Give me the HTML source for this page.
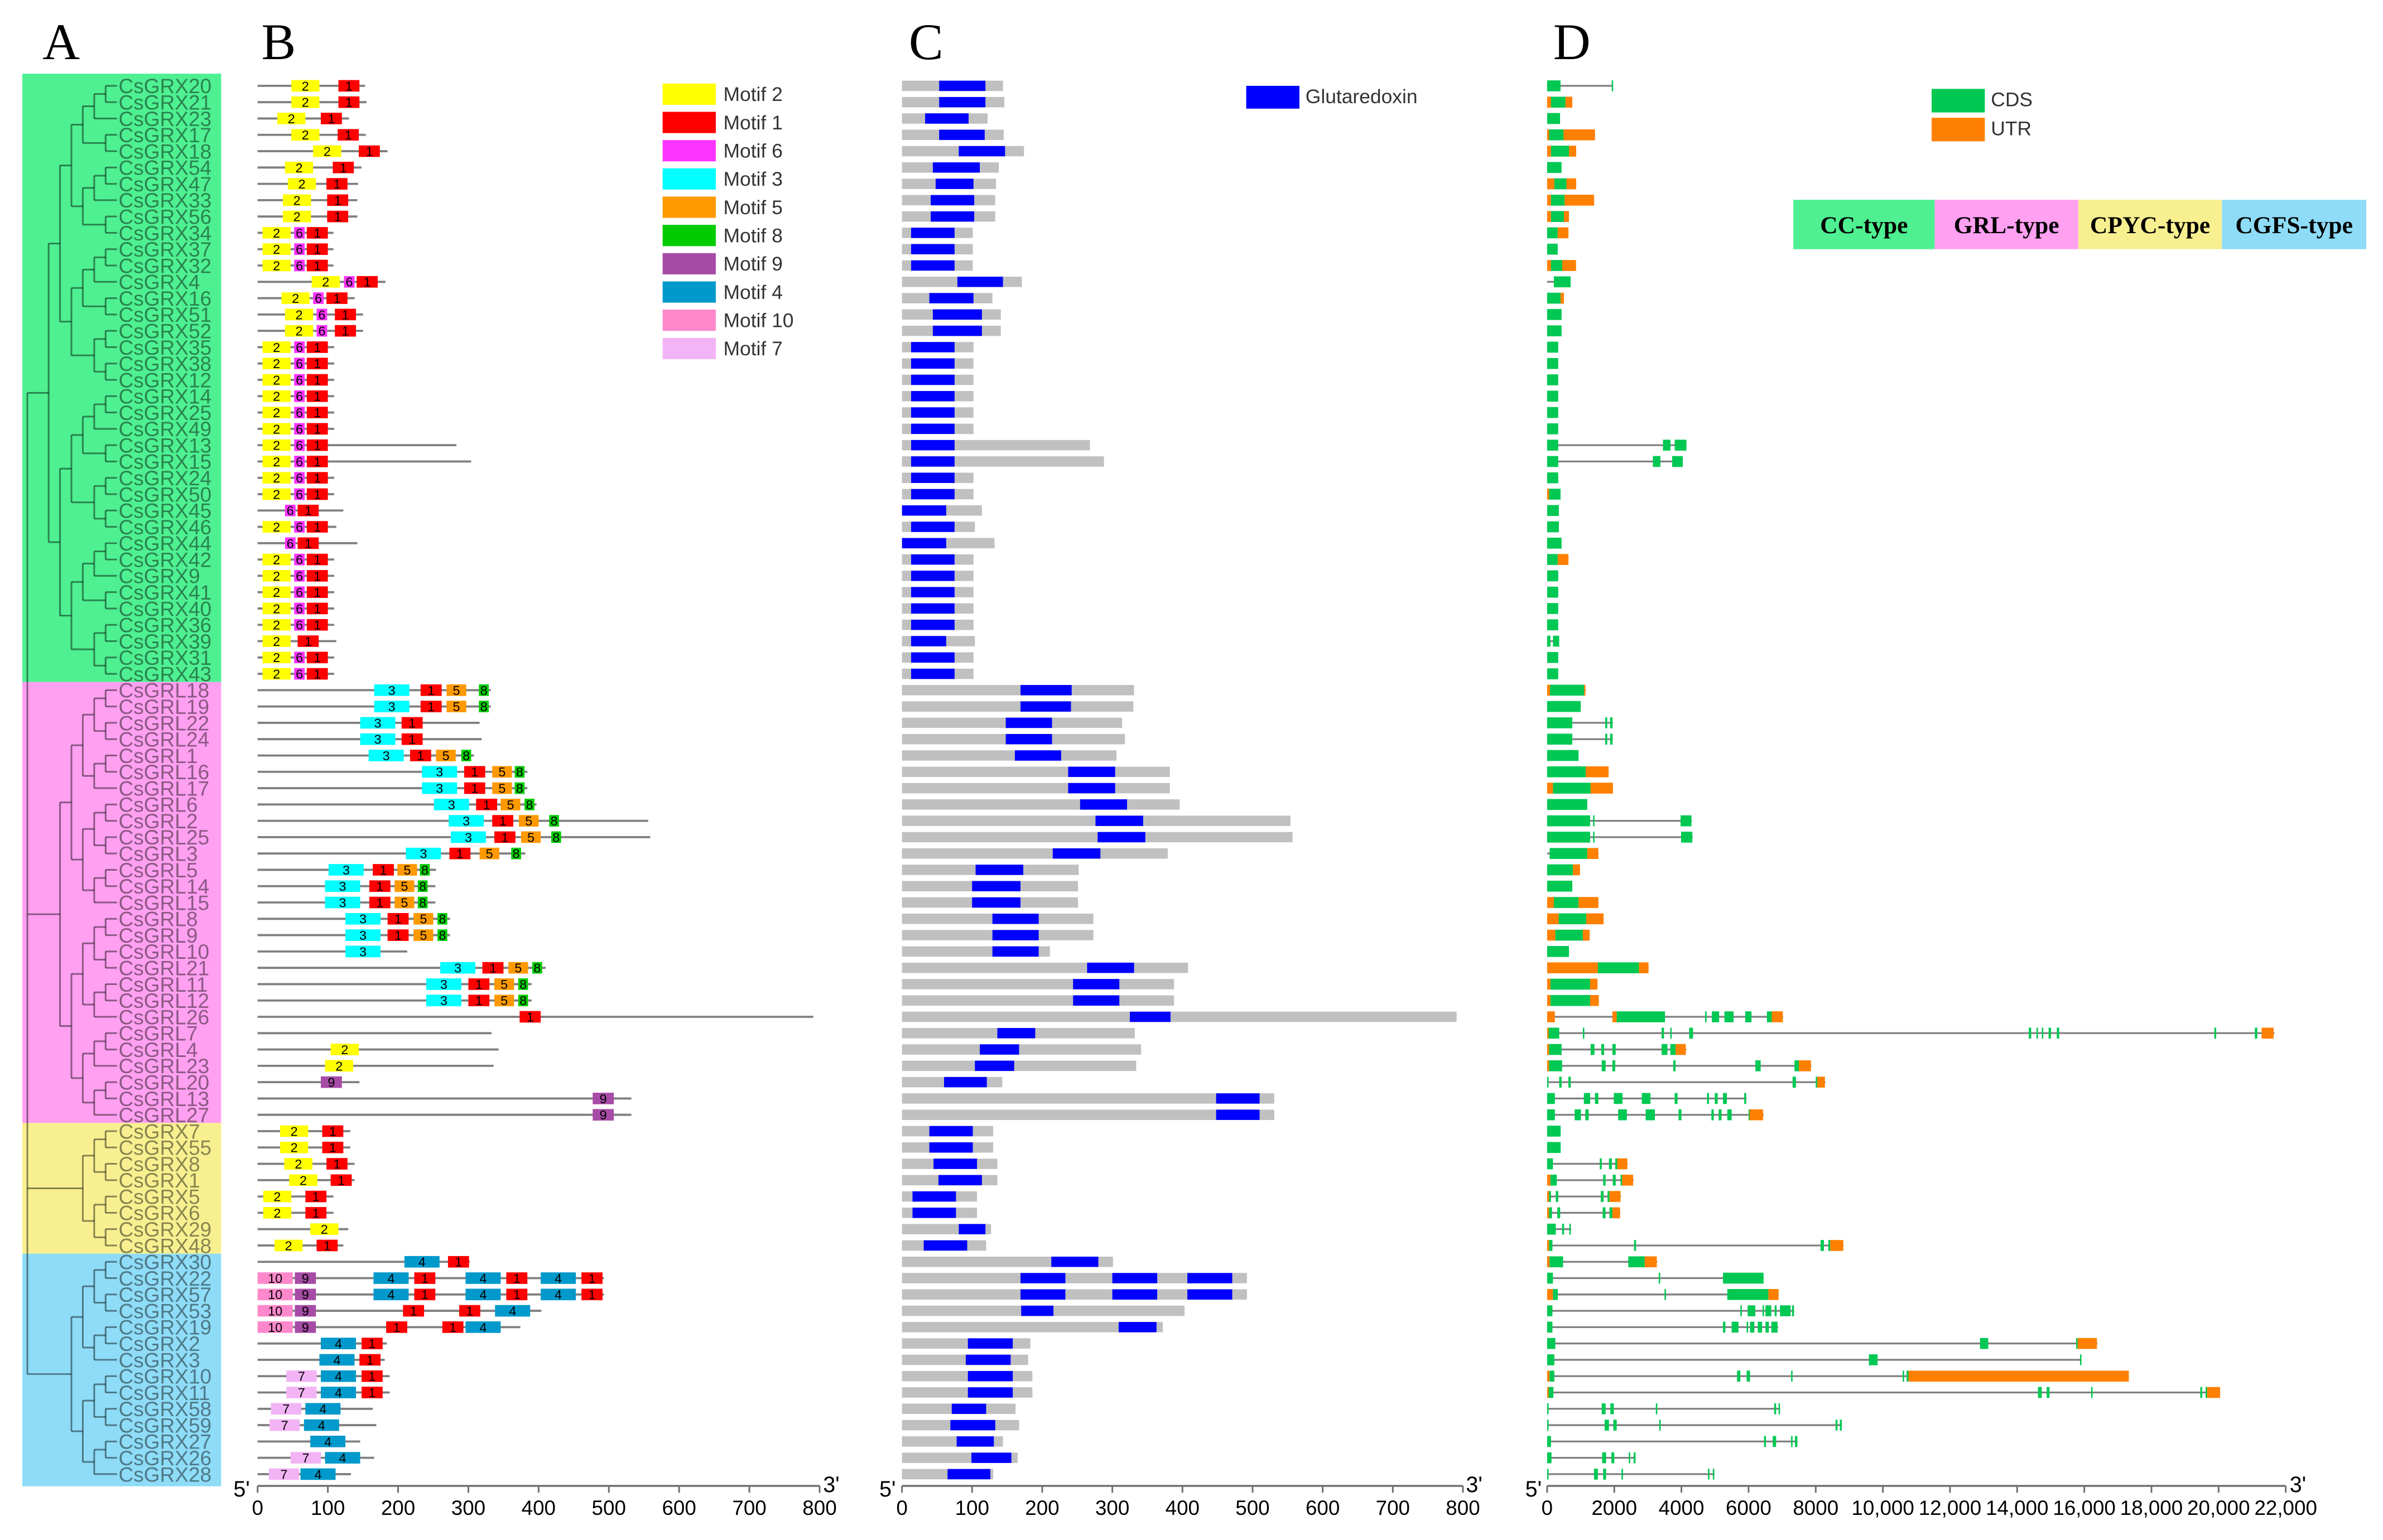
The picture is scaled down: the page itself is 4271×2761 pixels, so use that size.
<!DOCTYPE html>
<html><head><meta charset="utf-8"><title>CsGRX gene family</title>
<style>
html,body{margin:0;padding:0;background:#fff;}
svg{display:block;}
</style></head>
<body>
<svg id="fig" xmlns="http://www.w3.org/2000/svg" width="4271" height="2761" viewBox="0 0 1568 1013.6" preserveAspectRatio="none" font-family="Liberation Sans, sans-serif">
<g id="bg"></g>
<g id="tree"></g>
<g id="labels"></g>
<g id="pB"></g>
<g id="pC"></g>
<g id="pD"></g>
<g id="axes"></g>
<g id="leg"></g>
<text x="28" y="39" font-family="Liberation Serif, serif" font-size="34">A</text>
<text x="172" y="39" font-family="Liberation Serif, serif" font-size="34">B</text>
<text x="598" y="39" font-family="Liberation Serif, serif" font-size="34">C</text>
<text x="1022" y="39" font-family="Liberation Serif, serif" font-size="34">D</text>
</svg>
<script>
const genes = ["CsGRX20","CsGRX21","CsGRX23","CsGRX17","CsGRX18","CsGRX54","CsGRX47","CsGRX33","CsGRX56","CsGRX34","CsGRX37","CsGRX32","CsGRX4","CsGRX16","CsGRX51","CsGRX52","CsGRX35","CsGRX38","CsGRX12","CsGRX14","CsGRX25","CsGRX49","CsGRX13","CsGRX15","CsGRX24","CsGRX50","CsGRX45","CsGRX46","CsGRX44","CsGRX42","CsGRX9","CsGRX41","CsGRX40","CsGRX36","CsGRX39","CsGRX31","CsGRX43",
"CsGRL18","CsGRL19","CsGRL22","CsGRL24","CsGRL1","CsGRL16","CsGRL17","CsGRL6","CsGRL2","CsGRL25","CsGRL3","CsGRL5","CsGRL14","CsGRL15","CsGRL8","CsGRL9","CsGRL10","CsGRL21","CsGRL11","CsGRL12","CsGRL26","CsGRL7","CsGRL4","CsGRL23","CsGRL20","CsGRL13","CsGRL27",
"CsGRX7","CsGRX55","CsGRX8","CsGRX1","CsGRX5","CsGRX6","CsGRX29","CsGRX48",
"CsGRX30","CsGRX22","CsGRX57","CsGRX53","CsGRX19","CsGRX2","CsGRX3","CsGRX10","CsGRX11","CsGRX58","CsGRX59","CsGRX27","CsGRX26","CsGRX28"];
const groupNames = ["CC-type","GRL-type","CPYC-type","CGFS-type"];
const groupSizes = [37,27,8,14];
const groupColors = ["#4ef091","#ffa0f1","#f8f090","#8edcf7"];

// Panel B: protein lengths and motifs [motif id, start aa]
const protLen = [153,155,130,154,185,148,143,142,142,108,108,108,182,138,150,150,109,109,109,109,109,109,283,304,109,109,122,112,142,109,109,109,109,109,112,109,109,
332,332,316,319,308,384,384,397,556,559,381,254,253,253,274,274,213,410,390,390,791,333,343,336,145,532,532,
132,132,138,138,108,108,129,122,
302,493,493,404,374,184,181,188,188,164,169,146,166,133];
const STD = [[2,7],[6,52],[1,70]];
const GRLM = (a,b,c,d)=>[[3,a],[1,b],[5,c],[8,d]];
const motifs = [
[[2,48],[1,115]],[[2,48],[1,115]],[[2,28],[1,90]],[[2,48],[1,114]],[[2,79],[1,144]],[[2,39],[1,107]],[[2,43],[1,98]],[[2,36],[1,99]],[[2,36],[1,99]],
STD,STD,STD,[[2,77],[6,123],[1,141]],[[2,34],[6,79],[1,98]],[[2,39],[6,84],[1,110]],[[2,39],[6,84],[1,110]],
STD,STD,STD,STD,STD,STD,STD,STD,STD,STD,[[6,39],[1,57]],STD,[[6,39],[1,57]],STD,STD,STD,STD,STD,[[2,7],[1,57]],STD,STD,
GRLM(166,232,269,315),GRLM(166,232,269,315),[[3,146],[1,205]],[[3,146],[1,205]],GRLM(158,217,254,290),GRLM(234,294,334,366),GRLM(234,294,334,366),GRLM(251,311,346,380),
GRLM(272,334,372,415),GRLM(275,337,375,418),GRLM(211,273,316,361),GRLM(101,164,199,231),GRLM(96,159,195,228),GRLM(96,159,195,228),GRLM(125,185,222,256),GRLM(125,185,222,256),
[[3,125]],GRLM(260,320,357,391),GRLM(240,300,337,371),GRLM(240,300,337,371),[[1,373]],[],[[2,104]],[[2,96]],[[9,90]],[[9,477]],[[9,477]],
[[2,32],[1,92]],[[2,32],[1,92]],[[2,38],[1,98]],[[2,45],[1,104]],[[2,8],[1,68]],[[2,8],[1,68]],[[2,75]],[[2,24],[1,84]],
[[4,209],[1,271]],
[[10,0],[9,53],[4,165],[1,223],[4,296],[1,354],[4,403],[1,461]],
[[10,0],[9,53],[4,165],[1,223],[4,296],[1,354],[4,403],[1,461]],
[[10,0],[9,53],[1,207],[1,287],[4,338]],
[[10,0],[9,53],[1,183],[1,263],[4,296]],
[[4,90],[1,148]],[[4,88],[1,145]],[[7,41],[4,90],[1,148]],[[7,41],[4,90],[1,148]],[[7,19],[4,68]],[[7,17],[4,66]],[[4,75]],[[7,47],[4,96]],[[7,16],[4,61]]
];
const motifLen = {1:30,2:40,3:50,4:50,5:28,6:15,7:43,8:14,9:30,10:50};
const motifColor = {1:"#ff0000",2:"#ffff00",3:"#00ffff",4:"#0099cc",5:"#ff9900",6:"#ff33ff",7:"#f2b4f4",8:"#00cc00",9:"#a64ca6",10:"#ff88cc"};
const motifLegend = [2,1,6,3,5,8,9,4,10,7];

// Panel C: protein length and glutaredoxin domains [start,end]
const cLen = [144,146,122,145,174,138,134,133,133,101,101,101,171,129,141,141,102,102,102,102,102,102,268,288,102,102,114,104,132,102,102,102,102,102,104,102,102,
331,330,314,318,306,382,382,396,554,557,379,252,251,251,273,273,211,408,388,388,791,332,341,334,143,531,531,
130,130,136,136,107,107,127,120,
301,492,492,403,372,183,180,186,186,162,167,144,165,130];
const D13 = [[13,75]];
const cDom = [
[[53,119]],[[53,119]],[[33,95]],[[53,118]],[[81,147]],[[44,111]],[[48,102]],[[41,103]],[[41,103]],D13,D13,D13,[[79,144]],[[39,102]],[[44,114]],[[44,114]],
D13,D13,D13,D13,D13,D13,D13,D13,D13,D13,[[0,63]],D13,[[0,63]],D13,D13,D13,D13,D13,[[13,63]],D13,D13,
[[169,242]],[[169,241]],[[148,214]],[[148,214]],[[161,227]],[[237,304]],[[237,304]],[[254,321]],[[276,344]],[[279,347]],[[215,283]],[[105,173]],[[100,169]],[[100,169]],
[[129,195]],[[129,195]],[[129,195]],[[264,331]],[[244,310]],[[244,310]],[[325,383]],[[136,190]],[[111,167]],[[104,160]],[[60,121]],[[448,510]],[[448,510]],
[[39,101]],[[39,101]],[[45,107]],[[52,114]],[[15,77]],[[15,77]],[[81,119]],[[31,93]],
[[213,280]],[[169,233],[300,364],[407,471]],[[169,233],[300,364],[407,471]],[[170,216]],[[309,363]],[[94,158]],[[91,155]],[[94,158]],[[94,158]],[[71,120]],[[69,133]],[[78,131]],[[99,156]],[[65,126]]
];

// Panel D: gene length (bp) and exon features [type, start, end] ('c' = CDS, 'u' = UTR)
const geneLen = [1950,750,385,1425,865,430,865,1400,650,635,315,860,700,500,430,430,330,330,330,330,330,330,4150,4040,330,400,350,350,430,635,330,330,330,330,360,330,330,
1150,1010,1960,1960,940,1835,1965,1200,4310,4335,1530,985,755,1530,1685,1270,655,3025,1505,1545,7030,21660,4144,7870,8290,5943,6450,
403,403,2400,2575,2200,2180,720,8830,
3280,6450,6900,7360,6880,16390,15920,17330,20050,6940,8780,7460,2640,4990];
const C330=[['c',0,330]];
const exons = [
[['c',0,400],['c',1925,1950]],[['u',0,115],['c',115,547],['u',547,750]],[['c',0,385]],[['u',0,60],['c',60,490],['u',490,1425]],[['u',0,115],['c',115,650],['u',650,865]],
[['c',0,430]],[['u',0,215],['c',215,575],['u',575,865]],[['u',0,115],['c',115,520],['u',520,1400]],[['u',0,115],['c',115,500],['u',500,650]],[['c',0,315],['u',315,635]],
[['c',0,315]],[['u',0,115],['c',115,450],['u',450,860]],[['c',200,700]],[['c',0,400],['u',400,500]],[['c',0,430]],[['c',0,430]],
C330,C330,C330,C330,C330,C330,[['c',0,330],['c',3450,3675],['c',3800,4150]],[['c',0,330],['c',3150,3375],['c',3725,4040]],C330,[['u',0,60],['c',60,400]],
[['c',0,350]],[['c',0,350]],[['c',0,430]],[['c',0,315],['u',315,635]],C330,C330,C330,C330,[['c',0,100],['c',175,360]],C330,C330,
[['u',0,85],['c',85,1100],['u',1100,1140]],[['c',0,1000]],[['c',0,750],['c',1730,1790],['c',1875,1950]],[['c',0,750],['c',1730,1790],['c',1875,1950]],[['c',0,935]],
[['c',0,1150],['u',1150,1830]],[['u',0,175],['c',175,1295],['u',1295,1960]],[['c',0,1195]],[['c',0,1280],['c',1370,1400],['c',3975,4300]],[['c',0,1280],['c',1370,1400],['c',3990,4325]],
[['c',75,1195],['u',1195,1525]],[['c',0,770],['u',770,980]],[['c',0,750]],[['u',0,200],['c',200,935],['u',935,1525]],[['u',0,345],['c',345,1165],['u',1165,1680]],
[['u',0,245],['c',245,1065],['u',1065,1265]],[['c',0,650]],[['u',0,1510],['c',1510,2735],['u',2735,3020]],[['u',0,100],['c',100,1280],['u',1280,1500]],[['u',0,100],['c',100,1280],['u',1280,1540]],
[['u',0,230],['u',1943,2072],['c',2072,3511],['c',4705,4749],['c',4907,5123],['c',5281,5554],['c',5900,6087],['c',6547,6691],['u',6691,7022]],
[['u',0,43],['c',43,360],['c',1065,1108],['c',3410,3482],['c',3669,3697],['c',4231,4346],['c',14347,14419],['c',14577,14620],['c',14735,14778],['c',14936,15008],['c',15181,15253],['c',19872,19929],['c',21081,21153],['u',21282,21641]],
[['u',0,58],['c',58,432],['c',1295,1410],['c',1612,1698],['c',1943,2043],['c',3410,3583],['c',3669,3827],['u',3827,4130]],
[['u',0,58],['c',58,446],['c',1626,1741],['c',1943,2029],['c',3756,3827],['c',6202,6360],['c',7367,7497],['u',7497,7857]],
[['c',0,43],['c',360,432],['c',633,705],['c',7310,7411],['c',8001,8044],['u',8044,8274]],
[['c',0,230],['c',1094,1281],['c',1425,1525],['c',1986,2245],['c',2820,3079],['c',3799,3885],['c',4763,4821],['c',4994,5080],['c',5238,5353],['c',5871,5929]],
[['c',0,230],['c',820,1007],['c',1137,1238],['c',2115,2374],['c',2935,3209],['c',3914,4001],['c',4893,4965],['c',5109,5195],['c',5367,5497],['c',6001,6029],['u',6029,6432]],
[['c',0,403]],[['c',0,403]],
[['c',0,173],['c',1568,1626],['c',1842,1928],['c',2029,2087],['u',2087,2389]],
[['u',0,100],['c',100,288],['c',1669,1741],['c',1957,2043],['c',2187,2230],['u',2230,2561]],
[['u',0,58],['c',58,115],['c',259,331],['c',1597,1684],['c',1799,1856],['u',1856,2187]],
[['u',0,58],['c',58,144],['c',302,389],['c',1655,1741],['c',1856,1943],['u',1943,2173]],
[['c',0,259],['c',446,504],['c',662,705]],
[['u',0,58],['c',58,158],['c',2590,2648],['c',8145,8245],['c',8375,8433],['u',8433,8821]],
[['u',0,72],['c',72,475],['c',2417,2907],['u',2907,3266]],
[['c',0,173],['c',3324,3367],['c',5238,6447]],
[['u',0,173],['c',173,317],['c',3497,3540],['c',5367,6590],['u',6590,6893]],
[['c',0,158],['c',5756,5799],['c',5972,6202],['c',6418,6461],['c',6504,6677],['c',6777,6835],['c',6936,7253],['c',7296,7353]],
[['c',0,158],['c',5238,5310],['c',5497,5698],['c',5943,5986],['c',6044,6173],['c',6274,6404],['c',6504,6605],['c',6677,6864]],
[['c',0,245],['c',12894,13139],['c',15758,15801],['u',15801,16376]],
[['c',0,216],['c',9584,9843],['c',15872,15915]],
[['u',0,72],['c',72,216],['c',5655,5756],['c',5943,6044],['c',7267,7310],['c',10591,10634],['c',10706,10764],['u',10764,17326]],
[['u',0,43],['c',43,187],['c',14620,14735],['c',14879,14965],['c',16203,16246],['c',19454,19512],['c',19613,19656],['u',19656,20045]],
[['c',0,43],['c',1626,1741],['c',1885,1986],['c',3238,3281],['c',6763,6821],['c',6893,6936]],
[['c',0,43],['c',1712,1842],['c',1971,2072],['c',3338,3382],['c',8591,8648],['c',8720,8778]],
[['c',0,115],['c',6461,6519],['c',6720,6821],['c',7267,7310],['c',7382,7454]],
[['c',0,130],['c',1640,1756],['c',1914,2000],['c',2432,2475],['c',2576,2633]],
[['c',0,43],['c',1396,1511],['c',1669,1756],['c',2216,2259],['c',4792,4835],['c',4936,4979]]
];
const ticksB = [0,100,200,300,400,500,600,700,800];
const ticksC = [0,100,200,300,400,500,600,700,800];
const ticksD = [0,2000,4000,6000,8000,10000,12000,14000,16000,18000,20000,22000];
const ticksDLabels = ["0","2000","4000","6000","8000","10,000","12,000","14,000","16,000","18,000","20,000","22,000"];

const NS="http://www.w3.org/2000/svg";
function mk(parent, tag, attrs, text){
  const e=document.createElementNS(NS,tag);
  for(const k in attrs) e.setAttribute(k,attrs[k]);
  if(text!==undefined) e.textContent=text;
  parent.appendChild(e); return e;
}
const rowY = i => 56.5 + i*10.75;
const xB = v => 169.5 + v*(369.8/800);
const xC = v => 593.5 + v*(369.1/800);
const xD = v => 1018 + v*(486/22000);

// group bands
const bg=document.getElementById('bg');
let start=0;
const bounds=[];
groupSizes.forEach((n,g)=>{
  const y0 = g===0 ? rowY(0)-8 : rowY(start)-5.375;
  const y1 = g===groupSizes.length-1 ? rowY(start+n-1)+8 : rowY(start+n)-5.375;
  const r=mk(bg,'rect',{x:14.7,y:y0,width:130.8,height:y1-y0,fill:groupColors[g]});
  
  
  bounds.push([start,start+n-1]);
  start+=n;
});

// tree
const tree=document.getElementById('tree');
const LEAFX=77;
function tline(x1,y1,x2,y2){
  const l=mk(tree,'line',{x1:x1,y1:y1,x2:x2,y2:y2,stroke:'#000','stroke-opacity':0.45,'stroke-width':1.1});
  
  
}
function build(lo,hi){
  if(lo===hi) return {y:rowY(lo),h:0,x:LEAFX};
  const mid=Math.floor((lo+hi)/2);
  const a=build(lo,mid), b=build(mid+1,hi);
  const h=Math.max(a.h,b.h)+1;
  const x=LEAFX-h*7.5;
  tline(x,a.y,x,b.y);
  tline(x,a.y,a.x,a.y);
  tline(x,b.y,b.x,b.y);
  return {y:(a.y+b.y)/2,h:h,x:x};
}
const roots=bounds.map(b=>build(b[0],b[1]));
const RX=18;
tline(RX,roots[0].y,RX,roots[roots.length-1].y);
roots.forEach(r=>tline(RX,r.y,r.x,r.y));

// labels
const lab=document.getElementById('labels');
genes.forEach((g,i)=>{
  const t=mk(lab,'text',{x:78,y:rowY(i)+4.9,'font-size':13.6,fill:'#000','fill-opacity':0.45},g);
  
  
});

// panel B
const pB=document.getElementById('pB');
genes.forEach((g,i)=>{
  const y=rowY(i);
  const l=mk(pB,'line',{x1:xB(0),y1:y,x2:xB(protLen[i]),y2:y,stroke:'#7f7f7f','stroke-width':1.4});
  
  
  motifs[i].forEach(m=>{
    const id=m[0], s=m[1];
    const x0=xB(s), x1=xB(s+motifLen[id]);
    const r=mk(pB,'rect',{x:x0,y:y-3.8,width:x1-x0,height:7.6,fill:motifColor[id]});
    
    
    const t=mk(pB,'text',{x:(x0+x1)/2,y:y+3.1,'font-size':8.6,'text-anchor':'middle',fill:'#000'},String(id));
    
    
  });
});

// panel C
const pC=document.getElementById('pC');
genes.forEach((g,i)=>{
  const y=rowY(i);
  const r=mk(pC,'rect',{x:xC(0),y:y-3.4,width:xC(cLen[i])-xC(0),height:6.8,fill:'#c0c0c0'});
  
  
  cDom[i].forEach(d=>{
    const b=mk(pC,'rect',{x:xC(d[0]),y:y-3.4,width:xC(d[1])-xC(d[0]),height:6.8,fill:'#0000ff'});
    
    
  });
});

// panel D
const pD=document.getElementById('pD');
genes.forEach((g,i)=>{
  const y=rowY(i);
  const l=mk(pD,'line',{x1:xD(0),y1:y,x2:xD(geneLen[i]),y2:y,stroke:'#808080','stroke-width':1.2});
  
  
  exons[i].forEach(e=>{
    const w=Math.max(xD(e[2])-xD(e[1]),0.9);
    const r=mk(pD,'rect',{x:xD(e[1]),y:y-3.6,width:w,height:7.2,fill:e[0]==='c'?'#00c853':'#ff8000'});
    
    
  });
});

// axes
const ax=document.getElementById('axes');
function axis(fx,ticks,labels,name,p5,p3){
  const AY=978;
  const l=mk(ax,'line',{x1:fx(ticks[0]),y1:AY,x2:fx(ticks[ticks.length-1]),y2:AY,stroke:'#707070','stroke-width':1.3});
  
  
  ticks.forEach((t,k)=>{
    const tk=mk(ax,'line',{x1:fx(t),y1:AY,x2:fx(t),y2:AY+4.5,stroke:'#707070','stroke-width':1.1});
    
    
    const tx=mk(ax,'text',{x:fx(t),y:AY+19,'font-size':13.5,'text-anchor':'middle',fill:'#000'},labels[k]);
    
    
  });
  const a=mk(ax,'text',{x:p5,y:AY+7,'font-size':14.5,'text-anchor':'middle',fill:'#000'},"5'");
  
  
  const b=mk(ax,'text',{x:p3,y:AY+4,'font-size':14.5,'text-anchor':'middle',fill:'#000'},"3'");
  
  
}
axis(xB,ticksB,ticksB.map(String),'motif',159,547);
axis(xC,ticksC,ticksC.map(String),'domain',584,970);
axis(xD,ticksD,ticksDLabels,'structure',1009,1512);

// legends
const leg=document.getElementById('leg');
motifLegend.forEach((id,k)=>{
  const y=55+k*18.6;
  const r=mk(leg,'rect',{x:436,y:y,width:35,height:14,fill:motifColor[id]});
  
  
  const t=mk(leg,'text',{x:476,y:y+11.5,'font-size':13,fill:'#333'},'Motif '+id);
  
  
});
{
  const r=mk(leg,'rect',{x:820,y:56.5,width:35,height:15,fill:'#0000ff'});
  
  
  const t=mk(leg,'text',{x:859,y:68,'font-size':13,fill:'#333'},'Glutaredoxin');
  
  
  const c=mk(leg,'rect',{x:1271,y:58.5,width:35,height:15.5,fill:'#00c853'});
  
  
  const ct=mk(leg,'text',{x:1310,y:70,'font-size':13,fill:'#333'},'CDS');
  
  
  const u=mk(leg,'rect',{x:1271,y:77.5,width:35,height:15.5,fill:'#ff8000'});
  
  
  const ut=mk(leg,'text',{x:1310,y:89,'font-size':13,fill:'#333'},'UTR');
  
  
}
const typeX=[1180,1273,1367.5,1462,1557];
groupNames.forEach((n,g)=>{
  const r=mk(leg,'rect',{x:typeX[g],y:131.5,width:typeX[g+1]-typeX[g],height:32.5,fill:groupColors[g]});
  
  
  const t=mk(leg,'text',{x:(typeX[g]+typeX[g+1])/2,y:153.5,'font-size':16,'font-weight':'bold','font-family':'Liberation Serif, serif','text-anchor':'middle',fill:'#000'},n);
  
  
});
</script>
</body></html>
